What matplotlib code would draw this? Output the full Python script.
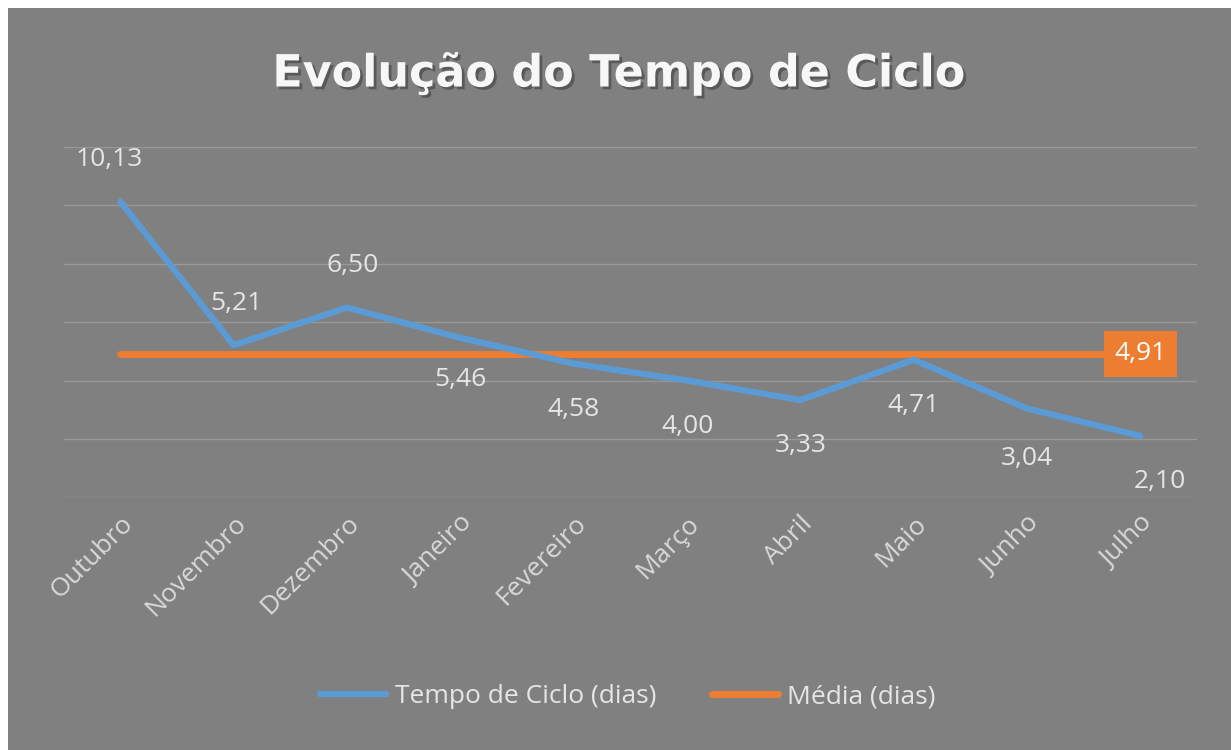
import matplotlib
matplotlib.use("Agg")
import matplotlib.pyplot as plt
import matplotlib.patheffects as pe
from matplotlib.patches import Rectangle

meses = ["Outubro", "Novembro", "Dezembro", "Janeiro", "Fevereiro",
         "Março", "Abril", "Maio", "Junho", "Julho"]
tempo_ciclo = [10.13, 5.21, 6.50, 5.46, 4.58, 4.00, 3.33, 4.71, 3.04, 2.10]
media = 4.91

# offsets dos rótulos (em pontos)
label_offsets = [(-8, 30), (2, 30), (4, 30), (0, -30), (0, -33), (0, -33),
                 (0, -33), (0, -33), (0, -36), (14, -33)]

BG = "#808080"
BLUE = "#5b9bd5"
ORANGE = "#ed7d31"
TXT = "#e6e6e6"

plt.rcParams["font.family"] = ["Open Sans", "DejaVu Sans"]

fig = plt.figure(figsize=(12.31, 7.5), dpi=100, facecolor=BG)
# borda branca à esquerda e em cima
fig.patches.append(Rectangle((0, 0), 8 / 1231, 1, transform=fig.transFigure,
                             facecolor="white", edgecolor="none"))
fig.patches.append(Rectangle((0, 1 - 8 / 750), 1, 8 / 750, transform=fig.transFigure,
                             facecolor="white", edgecolor="none"))

ax = fig.add_axes([0.0517, 0.337, 0.9207, 0.467])
ax.set_facecolor(BG)
ax.patch.set_alpha(0)

x = list(range(len(meses)))
ax.plot(x, tempo_ciclo, color=BLUE, lw=4.5, solid_capstyle="round",
        solid_joinstyle="round", zorder=3, label="Tempo de Ciclo (dias)")
ax.plot([x[0], x[-1]], [media, media], color=ORANGE, lw=5,
        solid_capstyle="round", zorder=2, label="Média (dias)")

for xi, v, (dx, dy) in zip(x, tempo_ciclo, label_offsets):
    ax.annotate(f"{v:.2f}".replace(".", ","), (xi, v), xytext=(dx, dy),
                textcoords="offset points", ha="center", va="center",
                fontsize=19, color=TXT, zorder=5)

ax.annotate(f"{media:.2f}".replace(".", ","), (x[-1], media), xytext=(0, 0),
            textcoords="offset points", ha="center", va="center",
            fontsize=19, color="white", zorder=6,
            bbox=dict(boxstyle="square,pad=0.4", facecolor=ORANGE, edgecolor="none"))

ax.set_xlim(-0.5, len(meses) - 0.5)
ax.set_ylim(0, 12)
ax.set_yticks(range(0, 13, 2))
ax.grid(axis="y", color="#989898", lw=1)
ax.set_axisbelow(True)
ax.tick_params(axis="y", left=False, labelleft=False)
ax.tick_params(axis="x", length=0, pad=10)
ax.set_xticks(x)
ax.set_xticklabels(meses, rotation=45, ha="right", rotation_mode="anchor",
                   fontsize=19, color="#d9d9d9")
for s in ax.spines.values():
    s.set_visible(False)

fig.text(0.503, 0.902, "Evolução do Tempo de Ciclo", ha="center", va="center",
         fontsize=32, fontweight="bold", color="#f7f7f7", family="DejaVu Sans",
         path_effects=[pe.withSimplePatchShadow(offset=(2, -2), shadow_rgbFace="#404040", alpha=0.6)])

leg = fig.legend(loc="center", bbox_to_anchor=(0.51, 0.071), ncol=2, frameon=False,
                 fontsize=19, handlelength=2.5, handletextpad=0.35, columnspacing=2.1)
for t in leg.get_texts():
    t.set_color("#e6e6e6")

fig.savefig("out.png", dpi=100, facecolor=fig.get_facecolor())
